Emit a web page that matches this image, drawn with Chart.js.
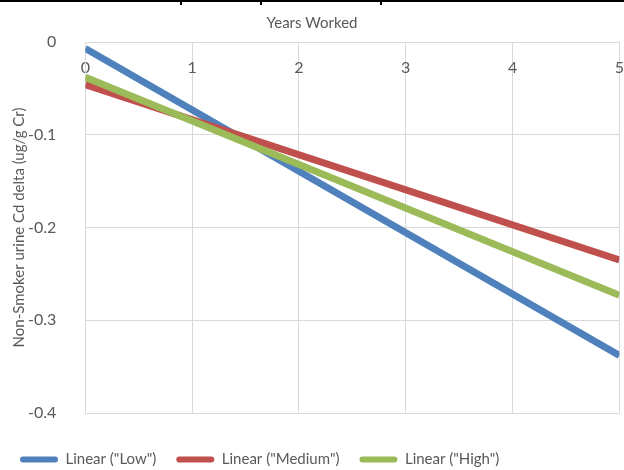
<!DOCTYPE html>
<html>
<head>
<meta charset="utf-8">
<script src="https://cdn.jsdelivr.net/npm/chart.js@4/dist/chart.umd.min.js"></script>
<style>
  html, body { margin: 0; padding: 0; background: #fff; }
  #wrap { position: relative; width: 624px; height: 470px; overflow: hidden; }
  #rule { position: absolute; left: 0; top: 0; width: 624px; height: 2px; background: #000; }
  .cell { position: absolute; top: 0; width: 2px; height: 5px; background: #000; }
  canvas { display: block; }
</style>
</head>
<body>
<div id="wrap">
  <canvas id="c" width="624" height="470"></canvas>
  <div id="rule"></div>
  <div class="cell" style="left:180px"></div>
  <div class="cell" style="left:260px"></div>
  <div class="cell" style="left:380px"></div>
</div>
<script>
// Linear trend lines of urine Cd change against years worked, by exposure group
const years = [0, 5];
const lowValues = [-0.007, -0.338];
const mediumValues = [-0.046, -0.235];
const highValues = [-0.038, -0.273];
const seriesNames = ['Linear ("Low")', 'Linear ("Medium")', 'Linear ("High")'];
const xTicks = [0, 1, 2, 3, 4, 5];
const yTicks = [0, -0.1, -0.2, -0.3, -0.4];

const colors = ['#4F81BD', '#C0504D', '#9BBB59'];
const FONT = 'Lato, "Open Sans", sans-serif';
const TEXT = '#595959';
const GRID = '#D9D9D9';

const toPoints = vals => years.map((x, i) => ({ x: x, y: vals[i] }));

// later series are drawn over earlier ones
const datasets = [lowValues, mediumValues, highValues].map((vals, i) => ({
  label: seriesNames[i],
  data: toPoints(vals),
  showLine: true,
  borderColor: colors[i],
  backgroundColor: colors[i],
  borderWidth: 7,
  pointRadius: 0,
  pointHoverRadius: 0,
  fill: false,
  tension: 0,
  order: 3 - i
}));

new Chart(document.getElementById('c'), {
  type: 'scatter',
  data: { datasets: datasets },
  options: {
    responsive: false,
    animation: false,
    events: [],
    layout: { padding: { left: 0, right: 0, top: 0, bottom: -7 } },
    scales: {
      x: {
        type: 'linear',
        position: { y: 0 },
        min: 0,
        max: 5,
        afterBuildTicks: s => { s.ticks = xTicks.map(v => ({ value: v })); },
        ticks: { color: TEXT, font: { family: FONT, size: 16 }, padding: 0 },
        // invisible tick marks push the year labels down inside the plot
        grid: { color: GRID, lineWidth: 1, drawTicks: true, tickLength: 16, tickColor: 'rgba(0,0,0,0)' },
        border: { color: GRID, width: 1 }
      },
      y: {
        type: 'linear',
        min: -0.4,
        max: 0,
        afterBuildTicks: s => { s.ticks = yTicks.map(v => ({ value: v })); },
        ticks: {
          color: TEXT,
          font: { family: FONT, size: 16 },
          padding: 29,
          callback: v => (Math.abs(v) < 1e-9 ? '0' : String(Math.round(v * 10) / 10))
        },
        grid: { color: GRID, lineWidth: 1, drawTicks: false },
        border: { color: GRID, width: 1 },
        title: {
          display: true,
          text: 'Non-Smoker urine Cd delta (ug/g Cr)',
          color: TEXT,
          font: { family: FONT, size: 15 },
          padding: { top: 10, bottom: -29 }
        }
      }
    },
    plugins: {
      title: {
        display: true,
        text: 'Years Worked',
        color: TEXT,
        font: { family: FONT, size: 15, weight: 'normal' },
        padding: { top: 14, bottom: 10 }
      },
      legend: {
        position: 'bottom',
        align: 'start',
        title: { display: true, text: '', font: { size: 10 }, padding: { top: 7, bottom: 0 } },
        labels: {
          color: TEXT,
          font: { family: FONT, size: 15 },
          boxWidth: 38,
          boxHeight: 6,
          padding: 20,
          useBorderRadius: true,
          borderRadius: 3,
          sort: (a, b) => a.datasetIndex - b.datasetIndex,
          generateLabels: chart => Chart.defaults.plugins.legend.labels.generateLabels(chart)
            .map(item => Object.assign(item, { lineWidth: 0 }))
        }
      },
      tooltip: { enabled: false }
    }
  }
});
</script>
</body>
</html>
